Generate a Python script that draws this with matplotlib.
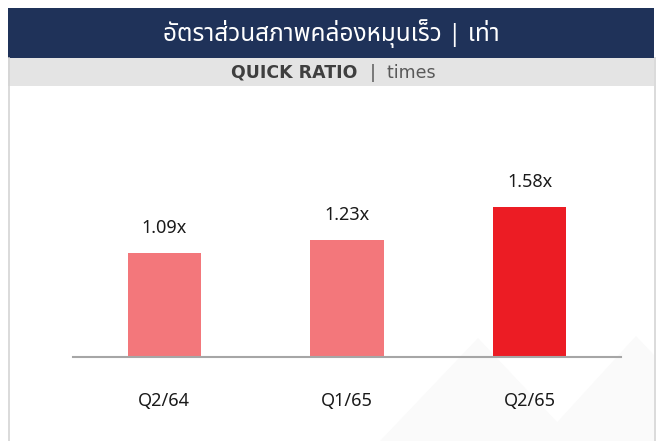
import matplotlib
matplotlib.use('Agg')
import matplotlib.pyplot as plt
from matplotlib.patches import Rectangle, Polygon
from matplotlib.lines import Line2D

# data
periods = ['Q2/64', 'Q1/65', 'Q2/65']
quick_ratio = [1.09, 1.23, 1.58]
bar_colors = ['#F3777B', '#F3777B', '#EC1C24']

title_th = 'อัตราส่วนสภาพคล่องหมุนเร็ว | เท่า'
sub_bold = 'QUICK RATIO'
sub_unit = '|  times'

W, H = 659, 441
fig = plt.figure(figsize=(W / 100, H / 100), dpi=100)
fig.patch.set_facecolor('white')


def px(x, y):
    # pixel position (from top-left) -> figure fraction
    return x / W, 1 - y / H


# very faint background shapes, bottom right
for pts in [[(380, 441), (478, 338), (575, 441)],
            [(540, 441), (636, 336), (654, 355), (654, 441)]]:
    fig.add_artist(Polygon([px(*p) for p in pts], closed=True, transform=fig.transFigure,
                           facecolor='#FAFAFA', edgecolor='none', zorder=0))

# header bands
fig.add_artist(Rectangle(px(8, 58), 646 / W, 50 / H, transform=fig.transFigure,
                         facecolor='#1F3259', edgecolor='none', zorder=1))
fig.add_artist(Rectangle(px(8, 86), 646 / W, 28 / H, transform=fig.transFigure,
                         facecolor='#E4E4E4', edgecolor='none', zorder=1))
for x in (8.5, 654.5):
    fig.add_artist(Line2D([x / W, x / W], [0, 1 - 58 / H], transform=fig.transFigure,
                          color='#D4D4D4', lw=1.2, zorder=1))

fig.text(*px(331, 34), title_th, color='white', fontsize=17.5, ha='center', va='center',
         family=['Noto Sans Thai', 'Noto Sans'], weight='medium')
fig.text(*px(357, 73), sub_bold, color='#3F3F3F', fontsize=12.5, ha='right', va='center',
         family='DejaVu Sans', weight='bold')
fig.text(*px(370, 73), sub_unit, color='#595959', fontsize=12.5, ha='left', va='center',
         family='DejaVu Sans')

# bar chart
ax = fig.add_axes([73 / W, (H - 357) / H, 548 / W, 267 / H])
ax.patch.set_alpha(0)
ax.set_zorder(2)
pos = list(range(len(periods)))
ax.bar(pos, quick_ratio, width=0.4, color=bar_colors, zorder=2)
ax.set_xlim(-0.5, 2.5)
ax.set_ylim(0, 267 / 95)

for s in ('top', 'right', 'left'):
    ax.spines[s].set_visible(False)
ax.spines['bottom'].set_color('#A6A6A6')
ax.spines['bottom'].set_linewidth(1.5)
ax.set_yticks([])
ax.set_xticks(pos)
ax.set_xticklabels(periods, fontsize=13, family='Noto Sans', color='#1A1A1A')
ax.tick_params(axis='x', length=0, pad=25.5)

for i, v in enumerate(quick_ratio):
    ax.annotate(f'{v:.2f}x', (i, v), xytext=(0, 18), textcoords='offset points',
                ha='center', va='center', fontsize=13, family='Noto Sans', color='#1A1A1A')

fig.savefig('out.png', dpi=100)
